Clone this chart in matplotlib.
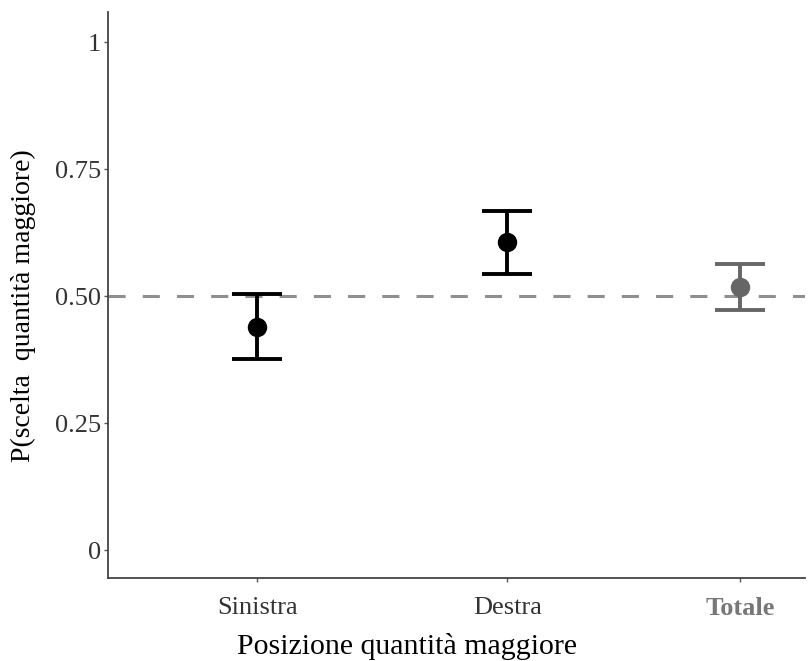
import matplotlib
matplotlib.use('Agg')
import matplotlib.pyplot as plt

# Dati
categorie = ["Sinistra", "Destra", "Totale"]
posizioni = [1.0, 2.0, 2.93]
stima = [0.439, 0.606, 0.518]
ci_basso = [0.376, 0.543, 0.472]
ci_alto = [0.504, 0.667, 0.563]
colori = ["black", "black", "#666666"]
y_ticks = [0, 0.25, 0.50, 0.75, 1]
y_tick_labels = ["0", "0.25", "0.50", "0.75", "1"]

plt.rcParams['font.family'] = ['Liberation Serif', 'DejaVu Serif']

fig = plt.figure(figsize=(8.09, 6.61), dpi=100)
ax = fig.add_axes([108 / 809, 1 - 578 / 661, 697 / 809, 566 / 661])

# Linea di riferimento al 50%
ax.axhline(0.5, color='#8f8f8f', linestyle=(0, (5.6, 5.6)), linewidth=2.2, zorder=1)

for x, m, lo, hi, c in zip(posizioni, stima, ci_basso, ci_alto, colori):
    ax.errorbar(x, m, yerr=[[m - lo], [hi - m]], fmt='o', color=c,
                markersize=13, elinewidth=2.8, capsize=18, capthick=2.8, zorder=3)

ax.set_xlim(0.404, 3.19)
ax.set_ylim(-0.055, 1.06)
ax.set_xticks(posizioni)
ax.set_xticklabels(categorie, fontsize=19)
ax.set_yticks(y_ticks)
ax.set_yticklabels(y_tick_labels, fontsize=19)
ax.get_xticklabels()[2].set_color('#777777')
ax.get_xticklabels()[2].set_fontweight('bold')
for lbl in ax.get_yticklabels() + ax.get_xticklabels()[:2]:
    lbl.set_color('#333333')

ax.tick_params(axis='both', length=3, width=1, color='#555555', pad=2)
ax.tick_params(axis='x', pad=11)

for s in ['top', 'right']:
    ax.spines[s].set_visible(False)
for s in ['left', 'bottom']:
    ax.spines[s].set_color('#444444')
    ax.spines[s].set_linewidth(1.3)

ax.set_xlabel("Posizione quantità maggiore", fontsize=21.5)
ax.xaxis.set_label_coords(0.429, -0.098)
ax.set_ylabel("P(scelta  quantità maggiore)", fontsize=20)
ax.yaxis.set_label_coords(-0.103, 0.482)

fig.savefig("out.png", dpi=100)
